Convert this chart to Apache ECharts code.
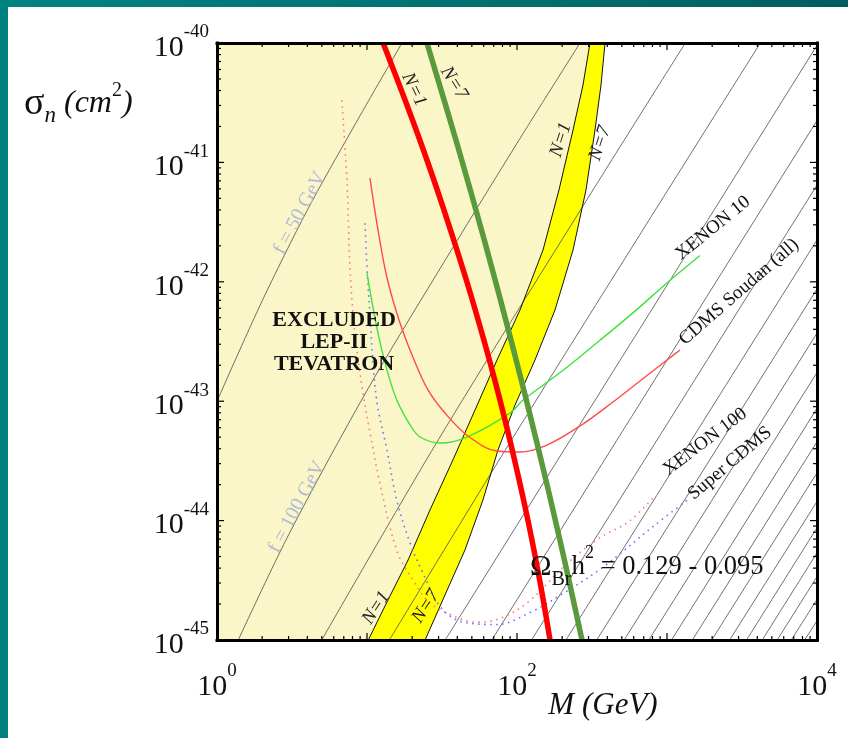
<!DOCTYPE html>
<html>
<head>
<meta charset="utf-8">
<title>Branon direct detection</title>
<script src="https://cdn.jsdelivr.net/npm/echarts@6/dist/echarts.min.js"></script>
<style>
  html, body { margin: 0; padding: 0; }
  body { width: 848px; height: 738px; position: relative; overflow: hidden; background: #00807c; }
  #topbar { position: absolute; left: 0; top: 0; width: 848px; height: 7px;
            background: linear-gradient(90deg, #00837f 0%, #006f70 60%, #005d61 100%); }
  #panel { position: absolute; left: 8px; top: 7px; right: 0; bottom: 0; background: #ffffff; }
  #chart { position: absolute; left: 0; top: 0; width: 848px; height: 738px; }
</style>
</head>
<body>
<div id="topbar"></div>
<div id="panel"></div>
<div id="chart"></div>
<script>
// Masses M in GeV, cross sections as log10(sigma_n / cm^2).

// Decade labels on the axes (exponents of 10)
const xLabelExps = [0, 2, 4];
const yLabelExps = [-45, -44, -43, -42, -41, -40];

// Thermal relic band, N = 1 edge and N = 7 edge
const bandEdgeN1 = [[10.2, -45.0], [13.8, -44.665], [18.8, -44.33], [26.3, -43.911], [37.4, -43.492],
  [52.5, -43.074], [73.6, -42.655], [104.7, -42.236], [149.1, -41.734], [190.5, -41.231],
  [236.3, -40.729], [275.4, -40.352], [306.7, -40.0]];
const bandEdgeN7 = [[24.4, -45.0], [33.1, -44.623], [45.0, -44.246], [59.3, -43.827], [74.7, -43.409],
  [97, -43.032], [131.8, -42.655], [179.2, -42.236], [236.3, -41.734], [288.4, -41.231],
  [331.1, -40.729], [363.1, -40.352], [386.2, -40.0]];

// Omega_Br h^2 curves (thick lines)
const relicN1 = [[12.8, -40.0], [18.25, -40.503], [25.5, -41.005], [34.8, -41.508], [46.6, -42.01],
  [60.9, -42.513], [77.9, -43.015], [97.4, -43.518], [119.3, -44.02], [142.8, -44.523], [166, -45.0]];
const relicN7 = [[25.1, -40.0], [39.7, -40.838], [61.3, -41.675], [92.3, -42.513], [135.9, -43.35],
  [195.3, -44.188], [271.3, -45.0]];

// Experimental limits
const xenon10 = [[10.0, -41.93], [11.7, -42.40], [13.6, -42.74], [15.8, -42.99], [19.4, -43.20],
  [22.6, -43.30], [30.7, -43.35], [46.4, -43.30], [89.8, -43.10], [110, -42.99], [194, -42.76],
  [357, -42.49], [593, -42.26], [1000, -42.01], [1660, -41.78]];
const cdmsSoudan = [[10.47, -41.131], [11.84, -41.566], [13.6, -41.968], [16.6, -42.345], [20.6, -42.655],
  [25.5, -42.906], [33.1, -43.099], [47.1, -43.291], [73.6, -43.417], [104.7, -43.425], [158.5, -43.367],
  [263, -43.208], [436.5, -43.007], [660.7, -42.831], [1000, -42.655], [1221, -42.571]];
const xenon100 = [[6.8, -40.48], [7.36, -41.17], [7.7, -41.88], [8.3, -42.43], [9.4, -42.93],
  [10.5, -43.27], [12.2, -43.69], [15.8, -44.25], [20.3, -44.50], [26.3, -44.69], [43.6, -44.83],
  [56.7, -44.85], [80.7, -44.81], [122, -44.67], [203, -44.39], [341, -44.16], [567, -44.00],
  [832, -43.79]];
const superCdms = [[9.7, -41.51], [10, -41.88], [10.5, -42.30], [11, -42.71], [11.8, -43.05],
  [13.6, -43.41], [15.8, -43.83], [19.4, -44.19], [23.6, -44.44], [30.7, -44.72], [43.6, -44.85],
  [73.6, -44.87], [122, -44.77], [203, -44.61], [374, -44.39], [807, -44.05], [1360, -43.83]];

// Lines of constant brane tension f = 50, 100, ..., 1000 GeV
const tensionLines = [
  [[1, -43.0], [2, -42.16], [4, -41.40], [8, -40.72], [17.1, -40.0]],
  [[1.386, -45.0], [3, -44.12], [10, -42.91], [30, -41.91], [100, -40.84], [263, -40.0]],
  [[4.99, -45.0], [30, -43.32], [300, -41.29], [1325, -40.0]],
  [[14.1, -45.0], [100, -43.25], [4190, -40.0]],
  [[33.2, -45.0], [10000, -40.02]],
  [[67.9, -45.0], [10000, -40.65]],
  [[125, -45.0], [10000, -41.19]],
  [[212, -45.0], [10000, -41.65]],
  [[340, -45.0], [10000, -42.06]],
  [[518, -45.0], [10000, -42.43]],
  [[757, -45.0], [10000, -42.76]],
  [[1072, -45.0], [10000, -43.06]],
  [[1476, -45.0], [10000, -43.34]],
  [[1987, -45.0], [10000, -43.60]],
  [[2615, -45.0], [10000, -43.84]],
  [[3390, -45.0], [10000, -44.06]],
  [[4315, -45.0], [10000, -44.27]],
  [[5428, -45.0], [10000, -44.47]],
  [[6739, -45.0], [10000, -44.66]],
  [[8271, -45.0], [10000, -44.84]]
];

const FONT = "'Liberation Serif', 'DejaVu Serif', serif";
const X_MIN = 0, X_MAX = 4, Y_MIN = -45, Y_MAX = -40;

const toXY = p => [Math.log10(p[0]), p[1]];

// tick positions: decades (major) and 2..9 (minor)
function decadeTicks(lo, hi) {
  const out = [];
  for (let e = lo; e <= hi; e++) {
    out.push([e, true]);
    if (e < hi) for (let k = 2; k <= 9; k++) out.push([e + Math.log10(k), false]);
  }
  return out;
}
const xTicks = decadeTicks(X_MIN, X_MAX);
const yTicks = decadeTicks(Y_MIN, Y_MAX);

const chart = echarts.init(document.getElementById('chart'), null, { renderer: 'canvas' });

const powRich = {
  b: { fontFamily: FONT, fontSize: 30, lineHeight: 40, verticalAlign: 'bottom', color: '#111' },
  s: { fontFamily: FONT, fontSize: 19, lineHeight: 19, verticalAlign: 'top', color: '#111' }
};

function frameAxis(kind, position, showLabels) {
  const isX = kind === 'x';
  return {
    type: 'value',
    position,
    min: isX ? X_MIN : Y_MIN,
    max: isX ? X_MAX : Y_MAX,
    interval: 1,
    z: 10,
    axisLine: { show: true, onZero: false, lineStyle: { color: '#000', width: 3, cap: 'square' } },
    axisTick: { show: false },
    splitLine: { show: false },
    axisLabel: showLabels ? {
      show: true,
      margin: isX ? 22 : 8,
      formatter: v => {
        const e = Math.round(v);
        const list = isX ? xLabelExps : yLabelExps;
        return list.indexOf(e) >= 0 ? '{b|10}{s|' + e + '}' : '';
      },
      rich: powRich
    } : { show: false }
  };
}

// filled regions: excluded area and relic band
const fillSeries = {
  type: 'custom',
  silent: true,
  z: 1,
  data: [[0, -45]],
  renderItem: (params, api) => {
    const n1 = bandEdgeN1.map(p => api.coord(toXY(p)));
    const n7 = bandEdgeN7.map(p => api.coord(toXY(p)));
    const excluded = [api.coord([X_MIN, Y_MIN])].concat(n1, [api.coord([X_MIN, Y_MAX])]);
    const band = n1.concat(n7.slice().reverse());
    return {
      type: 'group',
      children: [
        { type: 'polygon', shape: { points: excluded }, style: { fill: '#faf6c7' } },
        { type: 'polygon', shape: { points: band }, style: { fill: '#ffff00' } }
      ]
    };
  }
};

const tensionSeries = {
  type: 'custom',
  silent: true,
  z: 2,
  data: [[0, -45]],
  renderItem: (params, api) => ({
    type: 'group',
    children: tensionLines.map(line => ({
      type: 'polyline',
      shape: { points: line.map(p => api.coord(toXY(p))), smooth: 0.3 },
      style: { stroke: '#555555', lineWidth: 0.85, fill: null }
    }))
  })
};

const bandEdgeSeries = {
  type: 'custom',
  silent: true,
  z: 3,
  data: [[0, -45]],
  renderItem: (params, api) => ({
    type: 'group',
    children: [bandEdgeN1, bandEdgeN7].map(edge => ({
      type: 'polyline',
      shape: { points: edge.map(p => api.coord(toXY(p))) },
      style: { stroke: '#111', lineWidth: 1, fill: null }
    }))
  })
};

function curve(data, color, width, type, z) {
  return {
    type: 'line',
    data: data.map(toXY),
    showSymbol: false,
    smooth: 0.35,
    silent: true,
    z,
    lineStyle: { color, width, type, cap: 'butt' }
  };
}

// text annotations anchored in data space: [M, log10 sigma], rotation in degrees
const annotations = [
  { at: [6.03, -42.51], rot: 0, text: 'EXCLUDED\nLEP-II\nTEVATRON',
    style: { fontWeight: 'bold', fontSize: 22, lineHeight: 22, fill: '#111' } },
  { at: [122, -44.39], rot: 0, text: '{o|Ω}{b|Br}{h|h}{p|2}{t| = 0.129 - 0.095}', align: 'left',
    style: { fill: '#111', rich: {
      o: { fontFamily: FONT, fontSize: 29, lineHeight: 46, verticalAlign: 'middle' },
      b: { fontFamily: FONT, fontSize: 20, lineHeight: 19, verticalAlign: 'bottom' },
      h: { fontFamily: FONT, fontSize: 27, lineHeight: 46, verticalAlign: 'middle' },
      p: { fontFamily: FONT, fontSize: 18, lineHeight: 17, verticalAlign: 'top' },
      t: { fontFamily: FONT, fontSize: 26.5, lineHeight: 46, verticalAlign: 'middle' }
    } } },
  { at: [2026, -41.55], rot: 39, text: 'XENON 10', style: { fontSize: 19, fill: '#111' } },
  { at: [3020, -42.085], rot: 41, text: 'CDMS Soudan (all)', style: { fontSize: 19, fill: '#111' } },
  { at: [1792, -43.34], rot: 37, text: 'XENON 100', style: { fontSize: 19, fill: '#111' } },
  { at: [2630, -43.52], rot: 40, text: 'Super CDMS', style: { fontSize: 19, fill: '#111' } },
  { at: [20.6, -40.39], rot: -64, text: 'N=1', style: { fontSize: 19, fontStyle: 'italic', fill: '#222' } },
  { at: [38, -40.335], rot: -58, text: 'N=7', style: { fontSize: 19, fontStyle: 'italic', fill: '#222' } },
  { at: [196, -40.81], rot: 72, text: 'N=1', style: { fontSize: 19, fontStyle: 'italic', fill: '#222' } },
  { at: [357, -40.84], rot: 72, text: 'N=7', style: { fontSize: 19, fontStyle: 'italic', fill: '#222' } },
  { at: [11.5, -44.73], rot: 57, text: 'N=1', style: { fontSize: 19, fontStyle: 'italic', fill: '#222' } },
  { at: [24.7, -44.72], rot: 57, text: 'N=7', style: { fontSize: 19, fontStyle: 'italic', fill: '#222' } },
  { at: [3.57, -41.424], rot: 62, text: 'f = 50 GeV', style: { fontSize: 20, fill: '#b0bad8' } },
  { at: [3.41, -43.886], rot: 62, text: 'f = 100 GeV', style: { fontSize: 20, fill: '#b0bad8' } }
];

const labelSeries = {
  type: 'custom',
  silent: true,
  z: 8,
  data: annotations.map(a => toXY(a.at)),
  renderItem: (params, api) => {
    const a = annotations[params.dataIndex];
    const p = api.coord(toXY(a.at));
    return {
      type: 'text',
      x: p[0],
      y: p[1],
      rotation: a.rot * Math.PI / 180,
      style: Object.assign({
        text: a.text,
        fontFamily: FONT,
        align: a.align || 'center',
        verticalAlign: 'middle'
      }, a.style)
    };
  }
};

const tickSeries = {
  type: 'custom',
  silent: true,
  z: 9,
  data: [[0, -45]],
  renderItem: (params, api) => {
    const children = [];
    const seg = (x1, y1, x2, y2) => children.push({
      type: 'line', shape: { x1, y1, x2, y2 }, style: { stroke: '#000', lineWidth: 1.2 }
    });
    xTicks.forEach(([v, major]) => {
      const len = major ? 7 : 4;
      const b = api.coord([v, Y_MIN]), t = api.coord([v, Y_MAX]);
      seg(b[0], b[1], b[0], b[1] - len);
      seg(t[0], t[1], t[0], t[1] + len);
    });
    yTicks.forEach(([v, major]) => {
      const len = major ? 7 : 4;
      const l = api.coord([X_MIN, v]), r = api.coord([X_MAX, v]);
      seg(l[0], l[1], l[0] + len, l[1]);
      seg(r[0], r[1], r[0] - len, r[1]);
    });
    return { type: 'group', children };
  }
};

const option = {
  animation: false,
  backgroundColor: 'transparent',
  grid: { left: 217, right: 31, top: 43, bottom: 98, containLabel: false },
  xAxis: [frameAxis('x', 'bottom', true), frameAxis('x', 'top', false)],
  yAxis: [frameAxis('y', 'left', true), frameAxis('y', 'right', false)],
  graphic: [
    {
      type: 'text', left: 24, top: 81, z: 20,
      style: {
        text: '{s|σ}{n|n}{t| (cm}{p|2}{t|)}',
        fill: '#111',
        rich: {
          s: { fontFamily: FONT, fontSize: 38, lineHeight: 46, verticalAlign: 'middle' },
          n: { fontFamily: FONT, fontSize: 23, fontStyle: 'italic', lineHeight: 22, verticalAlign: 'bottom' },
          t: { fontFamily: FONT, fontSize: 32, fontStyle: 'italic', lineHeight: 46, verticalAlign: 'middle' },
          p: { fontFamily: FONT, fontSize: 20, lineHeight: 20, verticalAlign: 'top' }
        }
      }
    },
    {
      type: 'text', x: 603, y: 706, z: 20,
      style: { text: 'M (GeV)', fontFamily: FONT, fontSize: 31, fontStyle: 'italic', fill: '#111',
               align: 'center', verticalAlign: 'middle' }
    }
  ],
  series: [
    fillSeries,
    tensionSeries,
    bandEdgeSeries,
    curve(xenon100, '#ff7b7b', 1.6, [1.6, 4.4], 4),
    curve(superCdms, '#7373ff', 1.6, [1.6, 4.4], 4),
    curve(xenon10, '#3fe23f', 1.4, 'solid', 5),
    curve(cdmsSoudan, '#ff4a4a', 1.4, 'solid', 5),
    curve(relicN1, '#ff0000', 5.5, 'solid', 6),
    curve(relicN7, '#5b9a3c', 5.5, 'solid', 6),
    labelSeries,
    tickSeries
  ]
};

chart.setOption(option);
</script>
</body>
</html>
